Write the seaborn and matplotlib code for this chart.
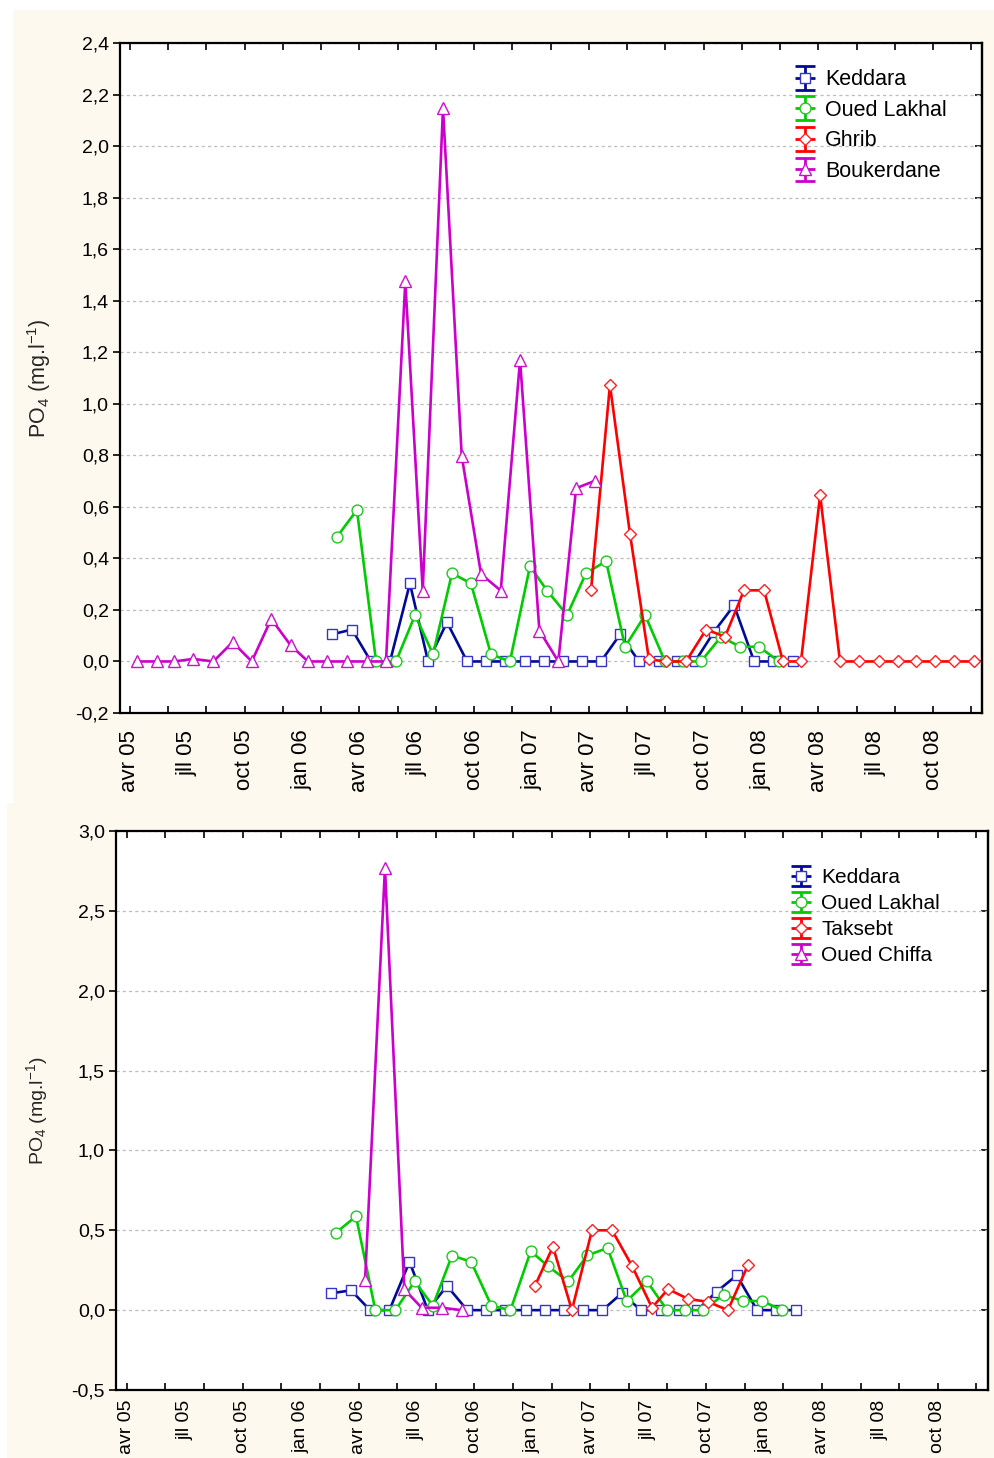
import numpy as np
import matplotlib
matplotlib.use("Agg")
import matplotlib.pyplot as plt
import seaborn as sns
from matplotlib.lines import Line2D
from matplotlib.legend_handler import HandlerBase
from matplotlib.patches import Rectangle
from matplotlib.ticker import FuncFormatter, NullFormatter

# ---------------- data (x = months since 1 April 2005) ----------------
month_labels = ["avr 05", "jll 05", "oct 05", "jan 06", "avr 06", "jll 06", "oct 06",
                "jan 07", "avr 07", "jll 07", "oct 07", "jan 08", "avr 08", "jll 08", "oct 08"]

keddara_x = [10.56, 11.61, 12.60, 13.60, 14.64, 15.59, 16.58, 17.63, 18.62, 19.61, 20.66, 21.65,
             22.65, 23.64, 24.63, 25.63, 26.62, 27.67, 28.61, 29.55, 30.54, 31.59, 32.64, 33.63, 34.68]
keddara_y = [0.105, 0.124, 0, 0, 0.303, 0, 0.152, 0, 0, 0, 0, 0,
             0, 0, 0, 0.105, 0, 0, 0, 0, 0.115, 0.218, 0, 0, 0]

lakhal_x = [10.83, 11.87, 12.87, 13.91, 14.91, 15.85, 16.84, 17.83, 18.88, 19.87, 20.92, 21.81,
            22.86, 23.85, 24.90, 25.89, 26.94, 27.98, 28.92, 29.86, 30.91, 31.90, 32.90, 33.94]
lakhal_y = [0.484, 0.588, 0, 0, 0.18, 0.028, 0.342, 0.303, 0.028, 0, 0.37, 0.275,
            0.18, 0.343, 0.389, 0.057, 0.18, 0, 0, 0, 0.096, 0.057, 0.057, 0]

ghrib_x = [24.11, 25.10, 26.15, 27.14, 28.03, 29.08, 30.13, 31.12, 32.11, 33.16, 34.15, 35.09,
           36.09, 37.13, 38.13, 39.17, 40.17, 41.11, 42.10, 43.10, 44.14]
ghrib_y = [0.276, 1.073, 0.494, 0.008, 0, 0, 0.124, 0.096, 0.276, 0.276, 0, 0,
           0.646, 0, 0, 0, 0, 0, 0, 0, 0]

boukerdane_x = [0.38, 1.40, 2.32, 3.31, 4.36, 5.37, 6.37, 7.39, 8.40, 9.31, 10.32, 11.33, 12.38,
                13.39, 14.40, 15.31, 16.37, 17.35, 18.36, 19.39, 20.40, 21.41, 22.40, 23.33, 24.34]
boukerdane_y = [0, 0, 0, 0.01, 0, 0.075, 0, 0.165, 0.063, 0, 0, 0, 0,
                0, 1.475, 0.275, 2.148, 0.797, 0.339, 0.275, 1.17, 0.12, 0, 0.672, 0.702]

taksebt_x = [21.14, 22.07, 23.05, 24.09, 25.13, 26.16, 27.20, 28.03, 29.07, 30.10, 31.13, 32.17]
taksebt_y = [0.153, 0.397, 0, 0.5, 0.5, 0.278, 0.015, 0.132, 0.07, 0.052, 0, 0.282]

chiffa_x = [12.34, 13.37, 14.37, 15.27, 16.31, 17.34]
chiffa_y = [0.19, 2.77, 0.13, 0.015, 0.015, 0]

# ---------------- styles ----------------
BLUE, BLUE_M = "#000A96", "#3535C8"
GREEN, GREEN_M = "#00CC00", "#20C820"
RED, RED_M = "#FF0000", "#FF2020"
MAG, MAG_M = "#CC00CC", "#CC10CC"
CREAM = "#FDF9EE"

sns.set_style("white")
plt.rcParams["font.family"] = ["Liberation Sans", "DejaVu Sans"]
plt.rcParams["text.color"] = "black"
plt.rcParams["xtick.color"] = "black"
plt.rcParams["ytick.color"] = "black"

W, H = 994, 1458
fig = plt.figure(figsize=(W / 100, H / 100), dpi=100, facecolor="white")

def px_rect(x0, y0, x1, y1):
    return Rectangle((x0 / W, 1 - y1 / H), (x1 - x0) / W, (y1 - y0) / H,
                     transform=fig.transFigure, facecolor=CREAM, edgecolor="none", zorder=-10)

fig.patches.append(px_rect(13, 10, 994, 803))
fig.patches.append(px_rect(7, 803, 994, 1458))


def px_axes(l, t, r, b):
    return fig.add_axes([l / W, 1 - b / H, (r - l) / W, (b - t) / H])


class WhiskerHandler(HandlerBase):
    def __init__(self, hh, hw):
        super().__init__()
        self.hh, self.hw = hh, hw

    def create_artists(self, legend, orig, xdescent, ydescent, width, height, fontsize, trans):
        cx = -xdescent + width / 2
        cy = -ydescent + height / 2
        c = orig.get_color()
        hh, hw = self.hh, self.hw
        kw = dict(color=c, lw=2.0, solid_capstyle="butt")
        arts = [
            Line2D([cx, cx], [cy - hh, cy + hh], **kw),
            Line2D([cx - hw, cx + hw], [cy + hh, cy + hh], **kw),
            Line2D([cx - hw, cx + hw], [cy - hh, cy - hh], **kw),
            Line2D([cx - hw, cx + hw], [cy, cy], **kw),
            Line2D([cx], [cy], marker=orig.get_marker(), markersize=orig.get_markersize(),
                   markerfacecolor="white", markeredgecolor=orig.get_markeredgecolor(),
                   markeredgewidth=1.0, linestyle="none"),
        ]
        for a in arts:
            a.set_transform(trans)
        return arts


def comma(v, pos):
    return f"{v:.1f}".replace(".", ",")


def style_axes(ax, xlim, ylim, ystep, xlab_size, xlab_pad):
    ax.set_facecolor("white")
    ax.set_xlim(*xlim)
    ax.set_ylim(*ylim)
    ax.xaxis.remove_overlapping_locs = False
    ax.set_xticks(np.arange(0, 45, 2))
    ax.xaxis.set_major_formatter(NullFormatter())
    ax.set_xticks(np.arange(0, 43, 3), minor=True)
    ax.set_xticklabels(month_labels, minor=True, rotation=90)
    ax.tick_params(axis="x", which="major", direction="in", top=True, bottom=True,
                   length=5, width=1.2, color="black")
    ax.tick_params(axis="x", which="minor", length=0, pad=xlab_pad, labelsize=xlab_size)
    yt = np.round(np.arange(ylim[0], ylim[1] + ystep / 2, ystep), 2)
    ax.set_yticks(yt)
    ax.yaxis.set_major_formatter(FuncFormatter(comma))
    ax.tick_params(axis="y", direction="out", left=True, length=5, width=1.2,
                   labelsize=14, pad=3, color="black")
    ax.yaxis.grid(True, color="#BDBDBD", linestyle=(0, (2.5, 2.5)), linewidth=0.9)
    ax.xaxis.grid(False)
    for s in ax.spines.values():
        s.set_visible(True)
        s.set_color("black")
        s.set_linewidth(1.6)
    sec = ax.secondary_yaxis("right")
    sec.set_yticks(yt)
    sec.tick_params(direction="in", length=5, width=1.2, labelright=False)
    sec.spines["right"].set_linewidth(1.6)
    ax.set_xlabel("")


def draw(ax, series):
    handles = []
    for name, x, y, c, mc, m, ms in series:
        sns.lineplot(x=x, y=y, ax=ax, color=c, marker=m, markersize=ms,
                     markerfacecolor="white", markeredgecolor=mc, markeredgewidth=1.0,
                     linewidth=1.9, legend=False, estimator=None, sort=False)
        handles.append(Line2D([], [], color=c, marker=m, markersize=ms,
                              markeredgecolor=mc, label=name))
    return handles


ylabel = r"PO$\mathregular{_4}$ (mg.l$\mathregular{^{-1}}$)"

# ---------------- top chart ----------------
ax1 = px_axes(120, 43, 981.7, 713)
top_series = [
    ("Keddara", keddara_x, keddara_y, BLUE, BLUE_M, "s", 7.8),
    ("Oued Lakhal", lakhal_x, lakhal_y, GREEN, GREEN_M, "o", 7.8),
    ("Ghrib", ghrib_x, ghrib_y, RED, RED_M, "D", 6.5),
    ("Boukerdane", boukerdane_x, boukerdane_y, MAG, MAG_M, "^", 8.3),
]
h1 = draw(ax1, top_series)
style_axes(ax1, (-0.52, 44.54), (-0.2, 2.4), 0.2, 16, 12)
ax1.set_ylabel(ylabel, fontsize=15.5)
ax1.yaxis.set_label_coords((53 - 120) / 861.7, 0.5)
hm = {h: WhiskerHandler(8.6, 7.2) for h in h1}
fig.legend(handles=h1, handler_map=hm, loc="upper left",
           bbox_to_anchor=(794 / W, 1 - 68 / H), frameon=False, fontsize=15.5,
           handlelength=1.0, handleheight=1.0, handletextpad=0.45, labelspacing=0.40,
           borderpad=0, borderaxespad=0)

# ---------------- bottom chart ----------------
ax2 = px_axes(116, 831, 988, 1390)
bottom_series = [
    ("Keddara", keddara_x, keddara_y, BLUE, BLUE_M, "s", 7.8),
    ("Oued Lakhal", lakhal_x, lakhal_y, GREEN, GREEN_M, "o", 7.8),
    ("Taksebt", taksebt_x, taksebt_y, RED, RED_M, "D", 6.5),
    ("Oued Chiffa", chiffa_x, chiffa_y, MAG, MAG_M, "^", 8.3),
]
h2 = draw(ax2, bottom_series)
style_axes(ax2, (-0.56, 44.6), (-0.5, 3.0), 0.5, 14, 7)
ax2.set_ylabel(ylabel, fontsize=14)
ax2.yaxis.set_label_coords((50 - 116) / 872, 0.5)
hm2 = {h: WhiskerHandler(7.2, 7.2) for h in h2}
fig.legend(handles=h2, handler_map=hm2, loc="upper left",
           bbox_to_anchor=(791 / W, 1 - 867 / H), frameon=False, fontsize=15,
           handlelength=1.0, handleheight=1.0, handletextpad=0.45, labelspacing=0.26,
           borderpad=0, borderaxespad=0)

fig.savefig("out.png", dpi=100, facecolor="white")
